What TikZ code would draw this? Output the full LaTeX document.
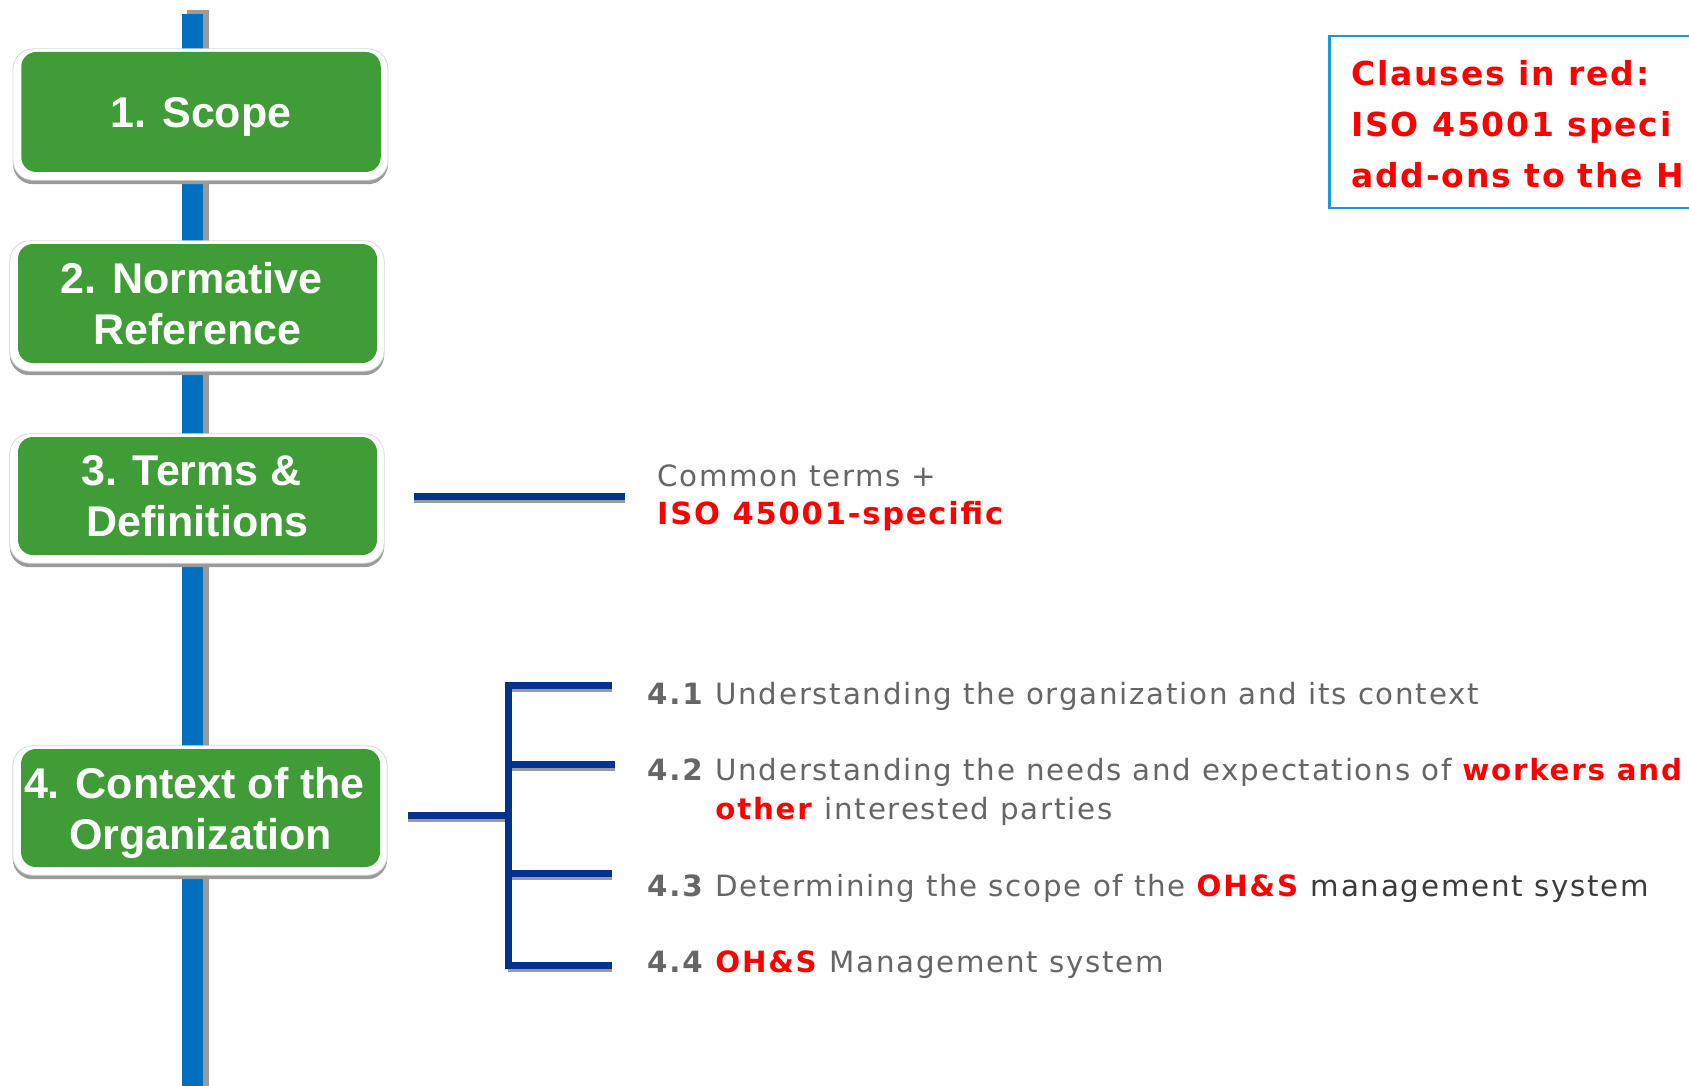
\documentclass[tikz,border=0pt]{standalone}
\usepackage{fontspec}
\setmainfont{Liberation Sans}
\newfontfamily\verd[LetterSpace=6]{DejaVu Sans}
\newfontfamily\verdwide[LetterSpace=5.5]{DejaVu Sans}
\usetikzlibrary{calc,backgrounds}
\definecolor{boxgreen}{HTML}{409C36}
\definecolor{trunkblue}{HTML}{0070C0}
\definecolor{navy}{HTML}{00338F}
\definecolor{shadegray}{HTML}{9A9A9A}
\definecolor{txtgray}{HTML}{666666}
\definecolor{txtdark}{HTML}{3C3C3C}
\definecolor{redtxt}{HTML}{FF0000}
\definecolor{framecyan}{HTML}{1A9AD6}
\begin{document}
\begin{tikzpicture}[x=1pt,y=-1pt,
  clausebox/.style={fill=boxgreen, rounded corners=15pt, text=white,
    font=\bfseries\fontsize{43}{51}\selectfont, align=center, inner sep=0pt, text depth=0pt},
  trunkline/.style={draw=trunkblue, line width=21pt},
  trunkshade/.style={draw=shadegray, line width=22pt},
  navyline/.style={draw=navy, line width=7pt},
  navyshade/.style={draw=shadegray, line width=3pt},
  subtext/.style={anchor=base west, inner sep=0pt, text=txtgray, font=\verd\fontsize{29.3}{39}\selectfont},
  ]
\useasboundingbox (0,0) rectangle (1689,1086);

% clause boxes
\node[clausebox, minimum width=359.5pt, minimum height=120pt] (c1) at (201,112) {1. Scope};
\node[clausebox, minimum width=359pt, minimum height=119pt] (c2) at (197.5,303.5) {2. Normative\hspace*{0.28em}\\Reference};
\node[clausebox, minimum width=359pt, minimum height=118pt] (c3) at (197.5,496) {3. Terms \&\hspace*{0.28em}\\Definitions};
\node[clausebox, minimum width=359pt, minimum height=118pt] (c4) at (200.5,808) {4. Context of the\hspace*{0.28em}\\Organization};

\begin{pgfonlayer}{background}
  \fill[white] (0,0) rectangle (1689,1086);
  \coordinate (ttop) at (192.5,14);
  \coordinate (tbot) at (192.5,1086);
  \coordinate (stop) at (198,10);
  \coordinate (sbot) at (198,1086);
  \draw[trunkshade] (stop) -- (sbot);
  \draw[trunkline] (ttop) -- (tbot);
  \foreach \c in {c1,c2,c3,c4}{
    \fill[shadegray, rounded corners=20pt] ($(\c.south west)+(-8,12)$) rectangle ($(\c.north east)+(7,1)$);
    \filldraw[fill=white, draw=gray!30, line width=0.8pt, rounded corners=20pt] ($(\c.south west)+(-8,8)$) rectangle ($(\c.north east)+(7,-3)$);
  }
\end{pgfonlayer}

% connector from 3
\coordinate (ta) at (414,496.5);
\coordinate (tb) at (625,496.5);
\draw[navyshade] ($(ta)+(0,5)$) -- ($(tb)+(0,5)$);
\draw[navyline] (ta) -- (tb);

% bracket from 4
\coordinate (ka) at (408,815.5);
\coordinate (kb) at (508,815.5);
\coordinate (v1) at (508,682);
\coordinate (v4) at (508,969);
\coordinate (e1) at (612,685.5);
\coordinate (e2) at (615,764.5);
\coordinate (e3) at (612,873.5);
\coordinate (e4) at (612,965.5);
\foreach \p in {ka,e1,e2,e3,e4}{
  \draw[navyshade] ($(\p)+(0,5)$) -- ($(v1 |- \p)+(0,5)$);
}
\draw[navyline] (ka) -- (kb);
\draw[navyline] (v1) -- (v4);
\foreach \p in {e1,e2,e3,e4}{
  \draw[navyline] ($(v1 |- \p)+(-3,0)$) -- (\p);
}

% texts
\node[subtext, font=\verd\fontsize{29.3}{38}\selectfont] (terms) at (657,486) {\begin{tabular}[t]{@{}l@{}}Common terms +\\
  \textcolor{redtxt}{\bfseries\fontsize{30.5}{38}\selectfont ISO 45001-specific}\end{tabular}};

\node[subtext] (s41) at (647,704) {\textbf{4.1} Understanding the organization and its context};
\node[subtext] (s42) at (647,780) {\begin{tabular}[t]{@{}l@{\ }l@{}}\textbf{4.2}&Understanding the needs and expectations of \textcolor{redtxt}{\textbf{workers and}}\\
  &\textcolor{redtxt}{\textbf{other}} interested parties\end{tabular}};
\node[subtext] (s43) at (647,896) {\textbf{4.3} Determining the scope of the \textcolor{redtxt}{\textbf{OH\&S}} \textcolor{txtdark}{management system}};
\node[subtext] (s44) at (647,972) {\textbf{4.4} \textcolor{redtxt}{\textbf{OH\&S}} Management system};

% legend box (cut by the page edge)
\begin{scope}
  \clip (0,0) rectangle (1689,1086);
  \node[draw=framecyan, line width=2.5pt, anchor=north west, minimum width=400pt, minimum height=172pt, inner sep=0pt] (legendframe) at (1328,35) {};
  \node[anchor=base west, inner sep=0pt, text=redtxt, font=\verdwide\bfseries\fontsize{33}{51}\selectfont] (legend) at (1351,86)
    {\begin{tabular}[t]{@{}l@{}}Clauses in red:\\ISO 45001 speci\\add-ons to the H\end{tabular}};
\end{scope}
\end{tikzpicture}
\end{document}
